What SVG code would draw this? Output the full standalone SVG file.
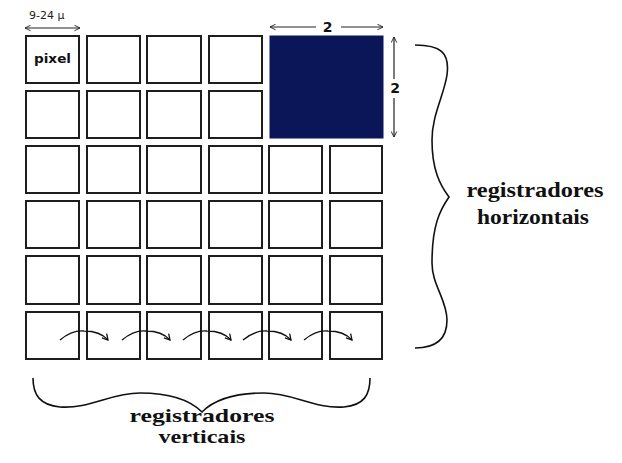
<svg xmlns="http://www.w3.org/2000/svg" width="622" height="463" viewBox="0 0 622 463">
<defs>
<marker id="ah" viewBox="0 0 10 10" refX="9" refY="5" markerWidth="7" markerHeight="7" orient="auto-start-reverse" markerUnits="userSpaceOnUse">
<path d="M1,1 L9,5 L1,9" fill="none" stroke="#222" stroke-width="1.3"/>
</marker>
<marker id="ch" viewBox="0 0 10 10" refX="8" refY="5" markerWidth="8" markerHeight="8" orient="auto" markerUnits="userSpaceOnUse">
<path d="M1,1 L8,5 L1,9" fill="none" stroke="#111" stroke-width="1.6"/>
</marker>
</defs>
<style>
.cell{fill:#fff;stroke:#1e1e1e;stroke-width:2}
.blue{fill:#0a1658;stroke:#0a1658;stroke-width:1}
.dim{fill:none;stroke:#222;stroke-width:1.2}
.arc{fill:none;stroke:#111;stroke-width:1.4}
.brace{fill:none;stroke:#111;stroke-width:1.6}
.lab{font-family:"Liberation Serif","DejaVu Serif",serif;font-weight:bold;font-size:22px;fill:#111}
.lab2{font-family:"Liberation Serif","DejaVu Serif",serif;font-weight:bold;font-size:19px;fill:#111}
.sans{font-family:"DejaVu Sans","Liberation Sans",sans-serif;font-weight:bold;fill:#111}
.thin{font-family:"DejaVu Sans","Liberation Sans",sans-serif;font-weight:normal;fill:#222}
</style>
<rect width="622" height="463" fill="#fff"/>
<g id="cells">
<g id="c00"><rect class="cell" x="26" y="36" width="53" height="47"/><text class="sans" x="52.5" y="63" font-size="12" text-anchor="middle" textLength="37" lengthAdjust="spacingAndGlyphs">pixel</text></g>
<g id="c01"><rect class="cell" x="87" y="36" width="53" height="47"/></g>
<g id="c02"><rect class="cell" x="147" y="36" width="54" height="47"/></g>
<g id="c03"><rect class="cell" x="209" y="36" width="53" height="47"/></g>
<g id="c10"><rect class="cell" x="26" y="91" width="53" height="47"/></g>
<g id="c11"><rect class="cell" x="87" y="91" width="53" height="47"/></g>
<g id="c12"><rect class="cell" x="147" y="91" width="54" height="47"/></g>
<g id="c13"><rect class="cell" x="209" y="91" width="53" height="47"/></g>
<g id="block2x2"><rect class="blue" x="270" y="36" width="113" height="102"/></g>
<g id="c20"><rect class="cell" x="26" y="146" width="53" height="47"/></g>
<g id="c21"><rect class="cell" x="87" y="146" width="53" height="47"/></g>
<g id="c22"><rect class="cell" x="147" y="146" width="54" height="47"/></g>
<g id="c23"><rect class="cell" x="209" y="146" width="53" height="47"/></g>
<g id="c24"><rect class="cell" x="269" y="146" width="53" height="47"/></g>
<g id="c25"><rect class="cell" x="330" y="146" width="52" height="47"/></g>
<g id="c30"><rect class="cell" x="26" y="201" width="53" height="47"/></g>
<g id="c31"><rect class="cell" x="87" y="201" width="53" height="47"/></g>
<g id="c32"><rect class="cell" x="147" y="201" width="54" height="47"/></g>
<g id="c33"><rect class="cell" x="209" y="201" width="53" height="47"/></g>
<g id="c34"><rect class="cell" x="269" y="201" width="53" height="47"/></g>
<g id="c35"><rect class="cell" x="330" y="201" width="52" height="47"/></g>
<g id="c40"><rect class="cell" x="26" y="256" width="53" height="48"/></g>
<g id="c41"><rect class="cell" x="87" y="256" width="53" height="48"/></g>
<g id="c42"><rect class="cell" x="147" y="256" width="54" height="48"/></g>
<g id="c43"><rect class="cell" x="209" y="256" width="53" height="48"/></g>
<g id="c44"><rect class="cell" x="269" y="256" width="53" height="48"/></g>
<g id="c45"><rect class="cell" x="330" y="256" width="52" height="48"/></g>
<g id="c50"><rect class="cell" x="26" y="312" width="53" height="47"/></g>
<g id="c51"><rect class="cell" x="87" y="312" width="53" height="47"/></g>
<g id="c52"><rect class="cell" x="147" y="312" width="54" height="47"/></g>
<g id="c53"><rect class="cell" x="209" y="312" width="53" height="47"/></g>
<g id="c54"><rect class="cell" x="269" y="312" width="53" height="47"/></g>
<g id="c55"><rect class="cell" x="330" y="312" width="52" height="47"/></g>
</g>
<g id="connectors">
<path class="arc" d="M60,340 Q72,330 84,331 Q100,331 108,340" marker-end="url(#ch)"/>
<path class="arc" d="M122,340 Q134,330 146,331 Q162,331 170,340" marker-end="url(#ch)"/>
<path class="arc" d="M183,340 Q195,330 207,331 Q223,331 231,340" marker-end="url(#ch)"/>
<path class="arc" d="M243,340 Q255,330 267,331 Q283,331 291,340" marker-end="url(#ch)"/>
<path class="arc" d="M304,340 Q316,330 328,331 Q344,331 352,340" marker-end="url(#ch)"/>
</g>
<g id="dimensions">
<line class="dim" x1="25" y1="28" x2="80" y2="28" marker-start="url(#ah)" marker-end="url(#ah)"/>
<text class="thin" x="29" y="19" font-size="11">9-24 μ</text>
<line class="dim" x1="270" y1="27" x2="316" y2="27" marker-start="url(#ah)"/>
<line class="dim" x1="341" y1="27" x2="383" y2="27" marker-end="url(#ah)"/>
<text class="sans" x="327.5" y="32" font-size="14" text-anchor="middle">2</text>
<line class="dim" x1="394" y1="37" x2="394" y2="79" marker-start="url(#ah)"/>
<line class="dim" x1="394" y1="98" x2="394" y2="137" marker-end="url(#ah)"/>
<text class="sans" x="395" y="93" font-size="14" text-anchor="middle">2</text>
</g>
<g id="braces">
<path class="brace" d="M415,45 C440,45 450,52 447,75 C444,95 432,115 432,140 C432,170 440,185 449,197 C440,210 432,225 432,263 C432,285 447,300 447,320 C447,340 435,348 415,348"/>
<path class="brace" d="M33,378 C33,395 40,405 60,407 C90,409 110,393 140,393 C170,393 190,400 202,412 C214,400 234,393 264,393 C294,393 314,409 344,407 C364,405 370,395 370,378"/>
</g>
<g id="labels">
<text class="lab" x="535" y="197" text-anchor="middle" textLength="137" lengthAdjust="spacingAndGlyphs">registradores</text>
<text class="lab" x="533" y="224" text-anchor="middle" textLength="112" lengthAdjust="spacingAndGlyphs">horizontais</text>
<text class="lab2" x="202" y="422" text-anchor="middle" textLength="145" lengthAdjust="spacingAndGlyphs">registradores</text>
<text class="lab2" x="202" y="443" text-anchor="middle" textLength="87" lengthAdjust="spacingAndGlyphs">verticais</text>
</g>
</svg>
